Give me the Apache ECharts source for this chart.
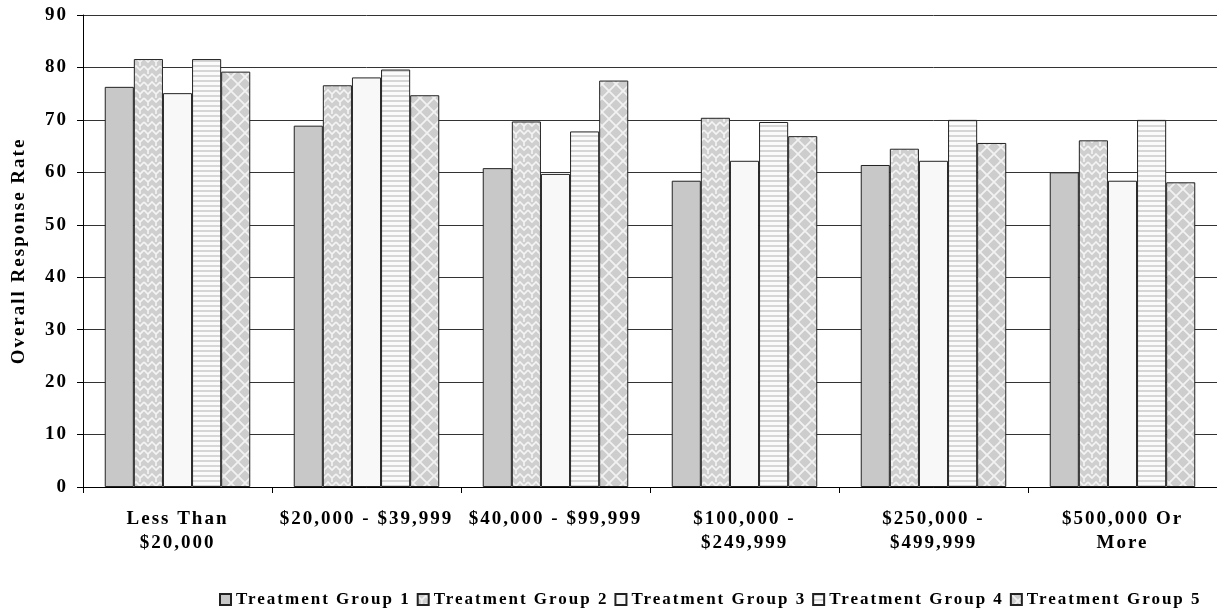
<!DOCTYPE html>
<html>
<head>
<meta charset="utf-8">
<script src="https://cdn.jsdelivr.net/npm/echarts@6/dist/echarts.min.js"></script>
<style>
  html, body { margin: 0; padding: 0; background: #ffffff; }
  #chart { width: 1217px; height: 616px; }
</style>
</head>
<body>
<div id="chart"></div>
<script>
// Income brackets on the x axis
const categories = [
  'Less Than\n$20,000',
  '$20,000 - $39,999',
  '$40,000 - $99,999',
  '$100,000 -\n$249,999',
  '$250,000 -\n$499,999',
  '$500,000 Or\nMore'
];

// Overall response rate by treatment group
const group1 = [76.3, 68.9, 60.8, 58.4, 61.4, 60.0];
const group2 = [81.6, 76.6, 69.7, 70.4, 64.5, 66.1];
const group3 = [75.1, 78.1, 59.7, 62.2, 62.2, 58.4];
const group4 = [81.6, 79.6, 67.8, 69.6, 70.0, 70.0];
const group5 = [79.2, 74.7, 77.5, 66.9, 65.6, 58.1];

const seriesNames = [
  'Treatment Group 1',
  'Treatment Group 2',
  'Treatment Group 3',
  'Treatment Group 4',
  'Treatment Group 5'
];

const yTicks = [0, 10, 20, 30, 40, 50, 60, 70, 80, 90];

// ---- wide-tracked type: apply letter spacing to every text draw and measurement ----
const TRACKING = '2px';
const proto = CanvasRenderingContext2D.prototype;
const origFillText = proto.fillText;
const origMeasureText = proto.measureText;
proto.fillText = function () {
  if ('letterSpacing' in this) this.letterSpacing = TRACKING;
  return origFillText.apply(this, arguments);
};
proto.measureText = function () {
  if ('letterSpacing' in this) this.letterSpacing = TRACKING;
  return origMeasureText.apply(this, arguments);
};

// ---- fill patterns ----
function makeTile(w, h, draw) {
  const c = document.createElement('canvas');
  c.width = w; c.height = h;
  const ctx = c.getContext('2d');
  draw(ctx, w, h);
  return c;
}

// woven / zigzag texture
const weaveTile = makeTile(16, 16, (ctx, w, h) => {
  ctx.fillStyle = '#cfcfcf';
  ctx.fillRect(0, 0, w, h);
  ctx.strokeStyle = '#f4f4f4';
  ctx.lineWidth = 1.6;
  ctx.beginPath();
  ctx.moveTo(0, 2); ctx.lineTo(4, 6); ctx.lineTo(8, 2); ctx.lineTo(12, 6); ctx.lineTo(16, 2);
  ctx.moveTo(0, 10); ctx.lineTo(4, 14); ctx.lineTo(8, 10); ctx.lineTo(12, 14); ctx.lineTo(16, 10);
  ctx.moveTo(4, 6); ctx.lineTo(4, 10);
  ctx.moveTo(12, 14); ctx.lineTo(12, 16);
  ctx.moveTo(12, 0); ctx.lineTo(12, 2);
  ctx.stroke();
});

// horizontal stripes
const stripeTile = makeTile(8, 5, (ctx, w, h) => {
  ctx.fillStyle = '#fbfbfb';
  ctx.fillRect(0, 0, w, h);
  ctx.fillStyle = '#d6d6d6';
  ctx.fillRect(0, 0, w, 2);
});

// diamond lattice
const latticeTile = makeTile(14, 14, (ctx, w, h) => {
  ctx.fillStyle = '#cdcdcd';
  ctx.fillRect(0, 0, w, h);
  ctx.strokeStyle = '#f2f2f2';
  ctx.lineWidth = 1.8;
  ctx.beginPath();
  ctx.moveTo(0, 0); ctx.lineTo(w, h);
  ctx.moveTo(w, 0); ctx.lineTo(0, h);
  ctx.stroke();
});

const fills = [
  '#c8c8c8',
  { image: weaveTile, repeat: 'repeat' },
  '#f8f8f8',
  { image: stripeTile, repeat: 'repeat' },
  { image: latticeTile, repeat: 'repeat' }
];

const seriesData = [group1, group2, group3, group4, group5];
const FONT = '"Liberation Serif", "Times New Roman", serif';

const chart = echarts.init(document.getElementById('chart'), null, { renderer: 'canvas' });

chart.setOption({
  animation: false,
  backgroundColor: '#ffffff',
  grid: { left: 83, right: 0, top: 15, bottom: 129, containLabel: false },
  legend: {
    bottom: 2,
    left: 214,
    itemWidth: 11,
    itemHeight: 11,
    itemGap: 6,
    icon: 'rect',
    textStyle: { fontFamily: FONT, fontWeight: 'bold', fontSize: 17, color: '#000' },
    data: seriesNames
  },
  xAxis: {
    type: 'category',
    data: categories,
    axisLine: { lineStyle: { color: '#000', width: 1 } },
    axisTick: { show: true, length: 6, lineStyle: { color: '#000' } },
    axisLabel: {
      interval: 0,
      margin: 20,
      fontFamily: FONT,
      fontWeight: 'bold',
      fontSize: 19,
      lineHeight: 24,
      color: '#000'
    }
  },
  yAxis: {
    type: 'value',
    min: 0,
    max: 90,
    interval: 10,
    name: 'Overall Response Rate',
    nameLocation: 'middle',
    nameGap: 53,
    nameTextStyle: { fontFamily: FONT, fontWeight: 'bold', fontSize: 19, color: '#000' },
    axisLine: { show: true, lineStyle: { color: '#000' } },
    axisTick: { show: true, length: 6, lineStyle: { color: '#000' } },
    splitLine: { show: true, lineStyle: { color: '#333', width: 1 } },
    axisLabel: {
      margin: 15,
      fontFamily: FONT,
      fontWeight: 'bold',
      fontSize: 19,
      color: '#000',
      formatter: v => (yTicks.includes(v) ? String(v) : '')
    }
  },
  series: seriesData.map((d, i) => ({
    name: seriesNames[i],
    type: 'bar',
    data: d,
    barGap: '0%',
    barCategoryGap: '23%',
    itemStyle: { color: fills[i], borderColor: '#222', borderWidth: 1 }
  }))
});
</script>
</body>
</html>
